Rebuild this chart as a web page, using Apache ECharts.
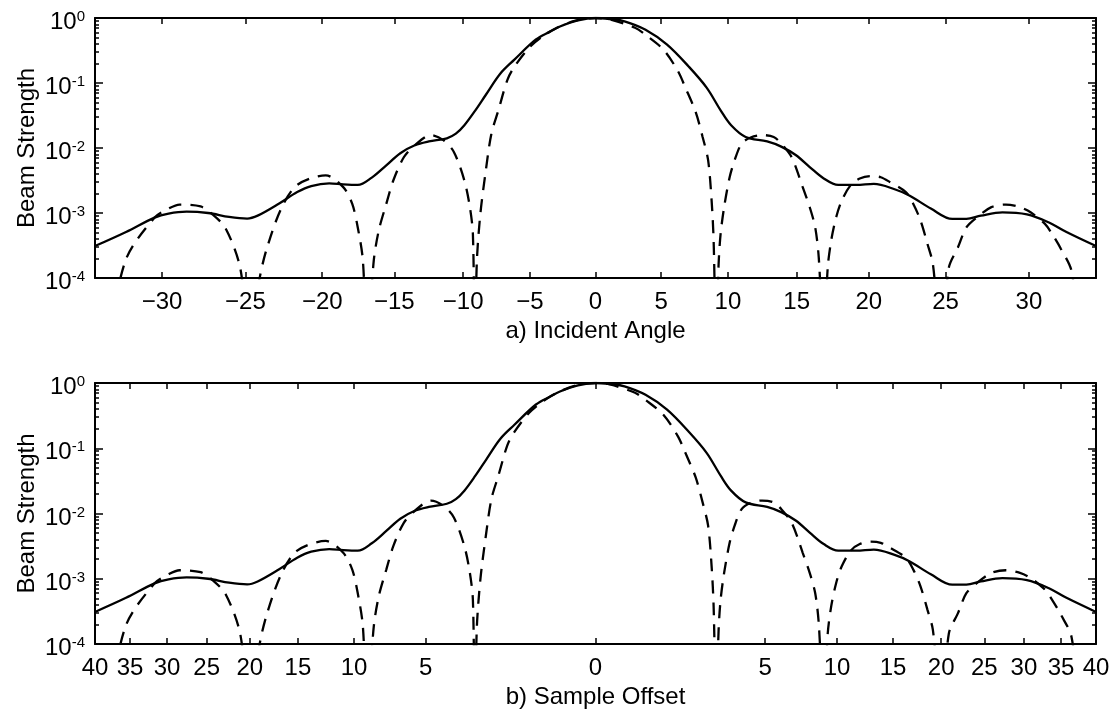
<!DOCTYPE html>
<html>
<head>
<meta charset="utf-8">
<script src="https://cdn.jsdelivr.net/npm/echarts@6/dist/echarts.min.js"></script>
<style>
  html, body { margin: 0; padding: 0; background: #fff; }
  #chart { width: 1113px; height: 710px; }
</style>
</head>
<body>
<div id="chart"></div>
<script>
// Horizontal coordinate u = 1.5·tan(incidence angle); both panels span u = -1 … 1.
const solidU = [-1.0, -0.938, -0.881, -0.853, -0.817, -0.774, -0.732, -0.696, -0.675, -0.632,
  -0.596, -0.568, -0.532, -0.504, -0.475, -0.447, -0.418, -0.390, -0.361, -0.333,
  -0.297, -0.279, -0.262, -0.240, -0.219, -0.190, -0.162, -0.119, -0.091, -0.071,
  -0.035, 0, 0.030, 0.058, 0.100, 0.143, 0.186, 0.222, 0.250, 0.271,
  0.300, 0.343, 0.371, 0.400, 0.428, 0.456, 0.485, 0.521, 0.556, 0.599,
  0.627, 0.670, 0.713, 0.741, 0.770, 0.813, 0.862, 0.905, 0.941, 1.0];
const solidStrength = [3.1e-4, 5.1e-4, 8.5e-4, 9.8e-4, 1.05e-3, 1.0e-3, 8.7e-4, 8.2e-4, 9.1e-4, 1.4e-3,
  2.1e-3, 2.6e-3, 2.85e-3, 2.75e-3, 2.7e-3, 3.5e-3, 5.4e-3, 8.3e-3, 1.1e-2, 1.26e-2,
  1.41e-2, 1.66e-2, 2.24e-2, 3.8e-2, 6.6e-2, 0.14, 0.229, 0.468, 0.617, 0.741,
  0.92, 1.0, 0.96, 0.89, 0.66, 0.39, 0.18, 0.085, 0.038, 0.0224,
  0.0148, 0.0126, 0.0105, 7.8e-3, 5.1e-3, 3.4e-3, 2.7e-3, 2.7e-3, 2.8e-3, 2.3e-3,
  1.86e-3, 1.17e-3, 8.1e-4, 8.1e-4, 9.1e-4, 1.02e-3, 9.5e-4, 7.2e-4, 5.1e-4, 3.1e-4];

const dashedU = [-0.975, -0.938, -0.881, -0.853, -0.831, -0.789, -0.767, -0.739, -0.710, -0.691,
  -0.671, -0.657, -0.628, -0.596, -0.539, -0.504, -0.486, -0.475, -0.465, -0.456,
  -0.443, -0.433, -0.418, -0.404, -0.383, -0.361, -0.329, -0.304, -0.283, -0.262,
  -0.251, -0.245, -0.241, -0.237, -0.230, -0.219, -0.208, -0.194, -0.176, -0.162,
  -0.133, -0.105, -0.077, -0.040, 0, 0.029, 0.079, 0.100, 0.136, 0.165,
  0.179, 0.200, 0.214, 0.225, 0.232, 0.236, 0.241, 0.246, 0.250, 0.257,
  0.268, 0.278, 0.292, 0.310, 0.333, 0.356, 0.371, 0.392, 0.414, 0.428,
  0.439, 0.446, 0.456, 0.464, 0.471, 0.481, 0.492, 0.510, 0.528, 0.550,
  0.570, 0.588, 0.620, 0.635, 0.649, 0.663, 0.674, 0.691, 0.706, 0.724,
  0.741, 0.763, 0.791, 0.820, 0.848, 0.870, 0.898, 0.912, 0.930, 0.951, 0.968];
const dashedStrength = [1e-5, 1.95e-4, 8.5e-4, 1.17e-3, 1.35e-3, 1.26e-3, 9.8e-4, 5.8e-4, 1.45e-4, 1e-5,
  1.0e-4, 2.8e-4, 1.17e-3, 2.7e-3, 3.8e-3, 2.5e-3, 1.38e-3, 6.0e-4, 1.95e-4, 1e-5,
  1.86e-4, 5.4e-4, 1.38e-3, 3.16e-3, 7.2e-3, 1.1e-2, 1.58e-2, 1.32e-2, 8.7e-3, 3.16e-3,
  1.23e-3, 4.8e-4, 1e-5, 1.86e-4, 9.8e-4, 4.6e-3, 1.66e-2, 3.8e-2, 0.112, 0.178,
  0.347, 0.525, 0.708, 0.91, 1.0, 0.95, 0.708, 0.55, 0.324, 0.151,
  0.087, 0.036, 0.0148, 6.5e-3, 1.55e-3, 3.8e-4, 1e-5, 1.66e-4, 4.8e-4, 1.23e-3,
  3.55e-3, 6.5e-3, 1.17e-2, 1.45e-2, 1.58e-2, 1.48e-2, 1.17e-2, 7.2e-3, 2.5e-3, 1.23e-3,
  6.0e-4, 2.1e-4, 1e-5, 1.45e-4, 3.8e-4, 8.7e-4, 1.55e-3, 2.7e-3, 3.4e-3, 3.7e-3,
  3.55e-3, 3.0e-3, 2.1e-3, 1.38e-3, 7.8e-4, 3.4e-4, 1.66e-4, 1e-5, 1.45e-4, 2.95e-4,
  6.0e-4, 8.7e-4, 1.23e-3, 1.35e-3, 1.23e-3, 1.02e-3, 6.8e-4, 4.8e-4, 2.8e-4, 1.29e-4, 1e-5];

// Tick labels
const angleTicks = [-30, -25, -20, -15, -10, -5, 0, 5, 10, 15, 20, 25, 30];
const offsetTicks = [-40, -35, -30, -25, -20, -15, -10, -5, 0, 5, 10, 15, 20, 25, 30, 35, 40];
const decadeTicks = [1e-4, 1e-3, 1e-2, 1e-1, 1];

const FONT = '"Liberation Sans", Arial, Helvetica, sans-serif';
const INK = '#000';
const U_SCALE = 1.5;                                       // u = 1.5·tan(angle)
const SEC_MAX = Math.sqrt(1 + 1 / (U_SCALE * U_SCALE));    // sec(angle) at the axis edge
const MAX_OFFSET = 40;

function angleToU(deg) { return U_SCALE * Math.tan(deg * Math.PI / 180); }
function offsetToU(s) {
  const sec = 1 + Math.abs(s) / MAX_OFFSET * (SEC_MAX - 1);
  return Math.sign(s) * U_SCALE * Math.sqrt(sec * sec - 1);
}

// log-axis minor ticks at 2..9 within each decade
const minorTicks = [];
for (let d = -4; d < 0; d++) for (let k = 2; k <= 9; k++) minorTicks.push(k * Math.pow(10, d));

function pairs(xs, ys) { return xs.map((x, i) => [x, ys[i]]); }

function nearestLabel(positions, labels, v) {
  let best = 0;
  for (let i = 1; i < positions.length; i++) {
    if (Math.abs(positions[i] - v) < Math.abs(positions[best] - v)) best = i;
  }
  return labels[best];
}

const panels = [
  {
    top: 18, height: 260, name: 'a) Incident Angle',
    tickPos: angleTicks.map(angleToU),
    tickText: angleTicks.map(a => (a < 0 ? '\u2212' + Math.abs(a) : String(a)))
  },
  {
    top: 383, height: 261, name: 'b) Sample Offset',
    tickPos: offsetTicks.map(offsetToU),
    tickText: offsetTicks.map(s => String(Math.abs(s)))
  }
];

const xAxis = [], yAxis = [], grid = [], series = [];
const spine = { show: true, onZero: false, lineStyle: { color: INK, width: 2 } };
const noSpine = { show: false, onZero: false };
const tickStyle = { color: INK, width: 1.5 };
const textStyle = { fontSize: 24, fontFamily: FONT, color: INK };

panels.forEach((p, g) => {
  grid.push({ left: 95, right: 17, top: p.top, height: p.height, containLabel: false });

  const base = { gridIndex: g, type: 'value', min: -1, max: 1, splitLine: { show: false } };
  xAxis.push(Object.assign({}, base, {
    position: 'bottom',
    axisLine: spine,
    axisTick: { show: true, inside: true, length: 6, customValues: p.tickPos, lineStyle: tickStyle },
    axisLabel: Object.assign({
      show: true, customValues: p.tickPos, margin: 12,
      showMinLabel: true, showMaxLabel: true, hideOverlap: false,
      formatter: v => nearestLabel(p.tickPos, p.tickText, v)
    }, textStyle),
    name: p.name, nameLocation: 'middle', nameGap: 41, nameMoveOverlap: false,
    nameTextStyle: textStyle
  }));
  xAxis.push(Object.assign({}, base, {
    position: 'top',
    axisLine: spine,
    axisTick: { show: true, inside: true, length: 6, customValues: p.tickPos, lineStyle: tickStyle },
    axisLabel: { show: false }
  }));

  const logBase = { gridIndex: g, type: 'log', logBase: 10, min: 1e-4, max: 1, splitLine: { show: false } };
  // left spine: decades with labels
  yAxis.push(Object.assign({}, logBase, {
    position: 'left',
    axisLine: spine,
    axisTick: { show: true, inside: true, length: 8, customValues: decadeTicks, lineStyle: tickStyle },
    axisLabel: {
      show: true, customValues: decadeTicks, margin: 10, padding: [8, 0, 0, 0],
      formatter: v => '{b|10}{e|' + Math.round(Math.log10(v)) + '}',
      rich: {
        b: { fontSize: 24, fontFamily: FONT, color: INK, lineHeight: 25, verticalAlign: 'bottom' },
        e: { fontSize: 15, fontFamily: FONT, color: INK, lineHeight: 15, verticalAlign: 'top' }
      }
    },
    name: 'Beam Strength', nameLocation: 'middle', nameGap: 56, nameRotate: 90,
    nameMoveOverlap: false,
    nameTextStyle: textStyle
  }));
  // left spine: minor ticks
  yAxis.push(Object.assign({}, logBase, {
    position: 'left',
    axisLine: noSpine,
    axisTick: { show: true, inside: true, length: 4, customValues: minorTicks, lineStyle: tickStyle },
    axisLabel: { show: false }
  }));
  // right spine: decades and minor ticks
  yAxis.push(Object.assign({}, logBase, {
    position: 'right',
    axisLine: spine,
    axisTick: { show: true, inside: true, length: 8, customValues: decadeTicks, lineStyle: tickStyle },
    axisLabel: { show: false }
  }));
  yAxis.push(Object.assign({}, logBase, {
    position: 'right',
    axisLine: noSpine,
    axisTick: { show: true, inside: true, length: 4, customValues: minorTicks, lineStyle: tickStyle },
    axisLabel: { show: false }
  }));

  series.push({
    type: 'line', xAxisIndex: 2 * g, yAxisIndex: 4 * g,
    data: pairs(solidU, solidStrength),
    showSymbol: false, symbol: 'none', smooth: 0.35, clip: true, silent: true,
    lineStyle: { color: INK, width: 2.3 }
  });
  series.push({
    type: 'line', xAxisIndex: 2 * g, yAxisIndex: 4 * g,
    data: pairs(dashedU, dashedStrength),
    showSymbol: false, symbol: 'none', smooth: 0.3, clip: true, silent: true,
    lineStyle: { color: INK, width: 2.3, type: [13, 9] }
  });
});

const chart = echarts.init(document.getElementById('chart'), null, { renderer: 'canvas' });
chart.setOption({
  animation: false,
  backgroundColor: '#fff',
  grid, xAxis, yAxis, series
});
</script>
</body>
</html>
